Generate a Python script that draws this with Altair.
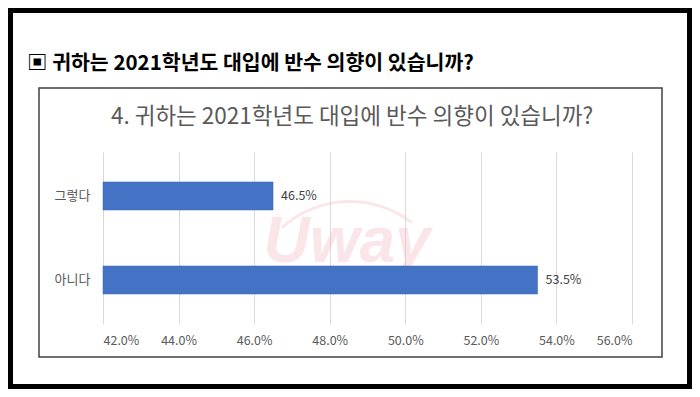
import altair as alt
import pandas as pd

categories = ["그렇다", "아니다"]
values = [46.5, 53.5]
x_ticks = [42, 44, 46, 48, 50, 52, 54, 56]
heading = "▣ 귀하는 2021학년도 대입에 반수 의향이 있습니까?"
chart_title = "4. 귀하는 2021학년도 대입에 반수 의향이 있습니까?"
watermark = "Uway"

df = pd.DataFrame({"cat": categories, "val": values})
df["label"] = [f"{v:.1f}%" for v in values]
one = pd.DataFrame({"k": [0]})

FONT = "Noto Sans CJK KR"
GRAY = "#595959"

xscale = alt.Scale(domain=[42, 56], zero=False, nice=False)
yscale = alt.Scale(domain=categories, paddingInner=0.667, paddingOuter=0.357)

x_axis = alt.Axis(values=x_ticks, labelExpr="format(datum.value, '.1f') + '%'",
                  grid=True, gridColor="#d9d9d9", gridWidth=1, domain=False, ticks=False,
                  labelColor=GRAY, labelFontSize=12.5, labelFont=FONT, labelPadding=10, title=None)
y_axis = alt.Axis(domain=False, ticks=False, labelColor=GRAY, labelFontSize=13,
                  labelFont=FONT, labelPadding=13, title=None, grid=False)

base = alt.Chart(df)
bars = base.mark_bar(color="#4472C4", stroke="#3a64b0", strokeWidth=0.5).encode(
    x=alt.X("val:Q", scale=xscale, axis=x_axis),
    x2=alt.datum(42),
    y=alt.Y("cat:N", scale=yscale, sort=categories, axis=y_axis),
)
labels = base.mark_text(align="left", baseline="middle", dx=8, font=FONT,
                        fontSize=12.5, color="#404040").encode(
    x=alt.X("val:Q", scale=xscale),
    y=alt.Y("cat:N", scale=yscale, sort=categories),
    text="label:N",
)

deco = alt.Chart(one)
frame = deco.mark_rect(fillOpacity=0, stroke="black", strokeWidth=5).encode(
    x=alt.value(-92.5), x2=alt.value(586.5), y=alt.value(-141.5), y2=alt.value(234.5))
box = deco.mark_rect(fillOpacity=0, stroke="#404040", strokeWidth=1.5).encode(
    x=alt.value(-64), x2=alt.value(559), y=alt.value(-64), y2=alt.value(205))
head = deco.mark_text(align="left", baseline="middle", font=FONT, fontSize=20.5,
                      fontWeight="bold", color="#000000").encode(
    x=alt.value(-76), y=alt.value(-88), text=alt.value(heading))
title = deco.mark_text(align="center", baseline="middle", font=FONT, fontSize=22.5,
                       color=GRAY).encode(
    x=alt.value(249), y=alt.value(-35), text=alt.value(chart_title))
wm_arc = deco.mark_arc(radius=100, radius2=103, theta=5.55, theta2=6.94,
                       color="#f3b9c0", opacity=0.35).encode(
    x=alt.value(247), y=alt.value(151))
wm_text = deco.mark_text(align="center", baseline="alphabetic", font="Liberation Sans",
                         fontSize=64, fontStyle="italic", fontWeight="bold",
                         color="#f3b9c0", opacity=0.35).encode(
    x=alt.value(244), y=alt.value(110), text=alt.value(watermark))

chart = alt.layer(frame, box, head, title, wm_arc, wm_text, bars, labels).properties(
    width=529, height=172,
    padding={"left": 95, "top": 144, "right": 60, "bottom": 65},
    autosize=alt.AutoSizeParams(type="none"),
    background="white",
).configure_view(stroke=None)

chart.save("out.html", embed_options={"renderer": "svg", "actions": False})
